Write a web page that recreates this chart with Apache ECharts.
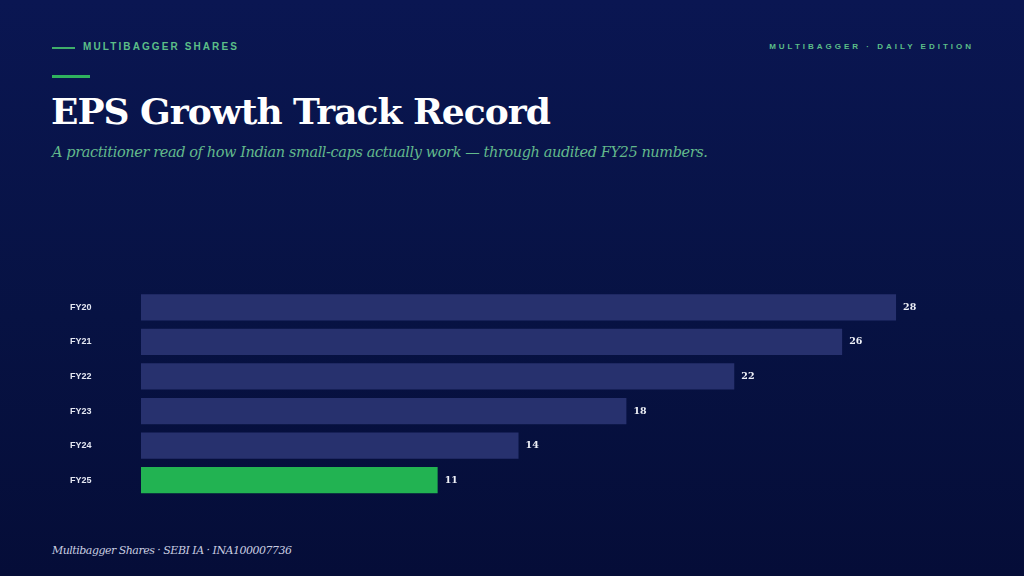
<!DOCTYPE html>
<html>
<head>
<meta charset="utf-8">
<script src="https://cdn.jsdelivr.net/npm/echarts@6/dist/echarts.min.js"></script>
<style>
  html, body { margin: 0; padding: 0; }
  body {
    width: 1024px; height: 576px; overflow: hidden; position: relative;
    background: linear-gradient(180deg, #0a1652 0%, #071243 55%, #050d38 100%);
  }
  #chart { position: absolute; left: 0; top: 0; width: 1024px; height: 576px; }
  .txt { position: absolute; white-space: nowrap; }
  .kicker-line { position: absolute; left: 52px; top: 47px; width: 23px; height: 2px; background: #3fae6a; }
  .kicker { left: 83px; top: 41px; font: bold 10px 'Liberation Sans', Arial, sans-serif; letter-spacing: 2.1px; color: #5cbf88; }
  .edition { right: 50px; top: 42px; font: bold 8px 'Liberation Sans', Arial, sans-serif; letter-spacing: 3px; color: #5cbf88; }
  .rule { position: absolute; left: 52px; top: 75px; width: 38px; height: 3px; background: #2fb35e; }
  .title { left: 51px; top: 90px; font: bold 36px 'DejaVu Serif', Georgia, serif; letter-spacing: -1px; color: #ffffff; }
  .sub { left: 52px; top: 144px; font: italic 14.5px 'DejaVu Serif', Georgia, serif; letter-spacing: -0.4px; color: #62b98c; }
  .foot { left: 52px; top: 544px; font: italic 11px 'DejaVu Serif', Georgia, serif; letter-spacing: -0.5px; color: #c9cde0; }
</style>
</head>
<body>
<div class="kicker-line"></div>
<div class="txt kicker">MULTIBAGGER SHARES</div>
<div class="txt edition">MULTIBAGGER · DAILY EDITION</div>
<div class="rule"></div>
<div class="txt title">EPS Growth Track Record</div>
<div class="txt sub">A practitioner read of how Indian small-caps actually work — through audited FY25 numbers.</div>
<div class="txt foot">Multibagger Shares · SEBI IA · INA100007736</div>
<div id="chart"></div>
<script>
const years = ['FY20', 'FY21', 'FY22', 'FY23', 'FY24', 'FY25'];
const eps = [28, 26, 22, 18, 14, 11];
const highlightYear = 'FY25';

const chart = echarts.init(document.getElementById('chart'), null, { renderer: 'canvas' });

chart.setOption({
  backgroundColor: 'transparent',
  animation: false,
  grid: { left: 141, right: 74, top: 290, bottom: 78.5, containLabel: false },
  xAxis: {
    type: 'value',
    min: 0,
    max: 30,
    show: false
  },
  yAxis: {
    type: 'category',
    inverse: true,
    data: years,
    axisLine: { show: false },
    axisTick: { show: false },
    splitLine: { show: false },
    axisLabel: {
      margin: 71,
      align: 'left',
      padding: [0, 0, 3, 0],
      color: '#e4e7f2',
      fontFamily: 'Liberation Sans, Arial, sans-serif',
      fontWeight: 'bold',
      fontSize: 9
    }
  },
  series: [{
    type: 'bar',
    barWidth: '76%',
    data: eps.map((v, i) => ({
      value: v,
      itemStyle: { color: years[i] === highlightYear ? '#22b352' : '#27316e' }
    })),
    label: {
      show: true,
      position: 'right',
      distance: 7,
      color: '#eef0f7',
      fontFamily: 'DejaVu Serif, Georgia, serif',
      fontWeight: 'bold',
      fontSize: 9.5
    }
  }]
});
</script>
</body>
</html>
